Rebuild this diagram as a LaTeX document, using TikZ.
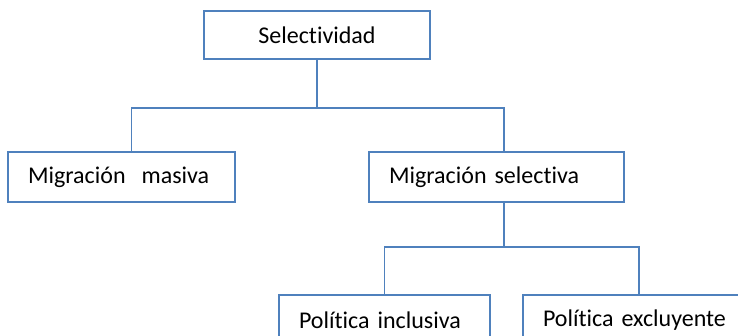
\documentclass[tikz,border=0pt]{standalone}
\usepackage{fontspec}
\setmainfont{Carlito}[RawFeature=-liga]
\definecolor{boxblue}{HTML}{4F81BD}
\begin{document}
\begin{tikzpicture}[
  x=1pt, y=1pt,
  box/.style={draw=boxblue, line width=1.8pt, rectangle, minimum height=50pt, inner xsep=20pt, inner ysep=0pt, align=left, font=\fontsize{24}{28}\selectfont},
  link/.style={draw=boxblue, line width=1.8pt}
]
\clip (0,0) rectangle (738,-336);

% Top level
\node[box, minimum height=48pt, text width=186pt, align=center] (selectividad) at (317,-35) {Selectividad};

% Second level
\node[box, text width=187pt] (masiva) at (121.5,-177) {Migración~~masiva};
\node[box, text width=215pt] (selectiva) at (496.5,-177) {Migración selectiva};

% Third level
\node[box, text width=171pt] (inclusiva) at (384.5,-320) {Política inclusiva};
\node[box, text width=200pt] (excluyente) at (643,-320) {Política excluyente};

% Junctions
\coordinate (j1) at (317,-108);
\coordinate (j2) at (504,-247);

% Connections
\draw[link] (selectividad.south) -- (j1);
\draw[link] (j1) -| ([xshift=10pt]masiva.north);
\draw[link] (j1) -| ([xshift=7.5pt]selectiva.north);
\draw[link] (selectiva.south -| j2) -- (j2);
\draw[link] (j2) -| (inclusiva.north);
\draw[link] (j2) -| ([xshift=-4pt]excluyente.north);

\end{tikzpicture}
\end{document}
